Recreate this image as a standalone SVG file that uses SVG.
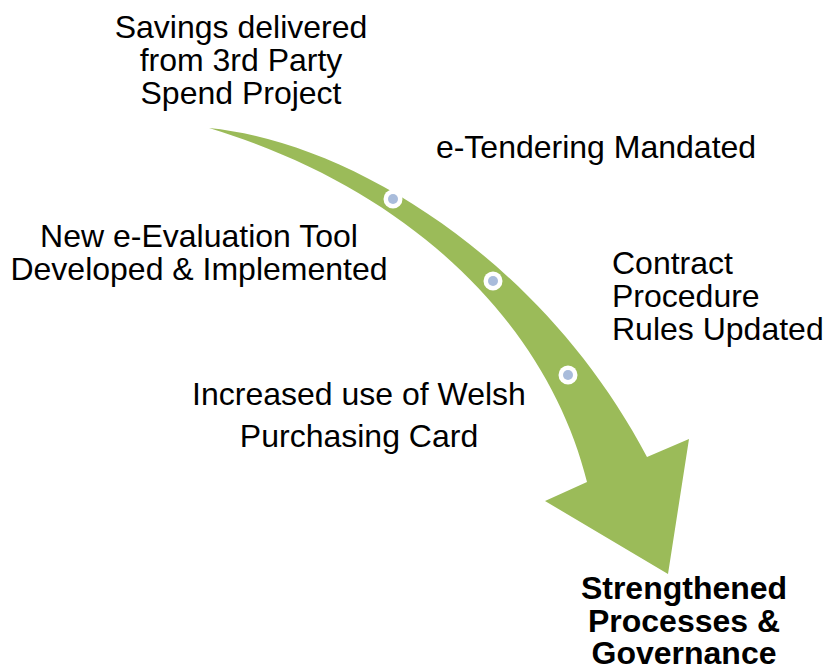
<svg xmlns="http://www.w3.org/2000/svg" width="827" height="670" viewBox="0 0 827 670">
<style>
.t{font-family:"Liberation Sans",Arial,sans-serif;font-size:32px;fill:#000}
.b{font-weight:bold}
.ring{fill:#fff}
.dot{fill:#A9BCDB}
</style>
<rect width="827" height="670" fill="#fff"/>
<g id="connectors">
<path id="arrow" d="M209,128 C350,142 542,258 647,457 L689,439 L668,574 L545,501 L587,482 C550,332 420,192 209,128 Z" fill="#9BBB59"/>
<circle class="ring" cx="393" cy="199" r="9.5"/><circle class="dot" cx="393" cy="199" r="5"/>
<circle class="ring" cx="493" cy="281" r="9.5"/><circle class="dot" cx="493" cy="281" r="5"/>
<circle class="ring" cx="568" cy="375" r="9.5"/><circle class="dot" cx="568" cy="375" r="5"/>
</g>
<g id="savings"><text class="t" text-anchor="middle"><tspan x="241" y="38">Savings delivered</tspan><tspan x="241" y="71">from 3rd Party</tspan><tspan x="241" y="104">Spend Project</tspan></text></g>
<g id="etender"><text class="t" text-anchor="middle" x="596" y="158">e-Tendering Mandated</text></g>
<g id="eeval"><text class="t" text-anchor="middle"><tspan x="199" y="247">New e-Evaluation Tool</tspan><tspan x="199" y="280">Developed &amp; Implemented</tspan></text></g>
<g id="contract"><text class="t"><tspan x="612" y="274">Contract</tspan><tspan x="612" y="307">Procedure</tspan><tspan x="612" y="340">Rules Updated</tspan></text></g>
<g id="welsh"><text class="t" text-anchor="middle"><tspan x="359" y="405">Increased use of Welsh</tspan><tspan x="359" y="447">Purchasing Card</tspan></text></g>
<g id="outcome"><text class="t b" text-anchor="middle"><tspan x="684" y="599">Strengthened</tspan><tspan x="684" y="632">Processes &amp;</tspan><tspan x="684" y="664">Governance</tspan></text></g>
</svg>
